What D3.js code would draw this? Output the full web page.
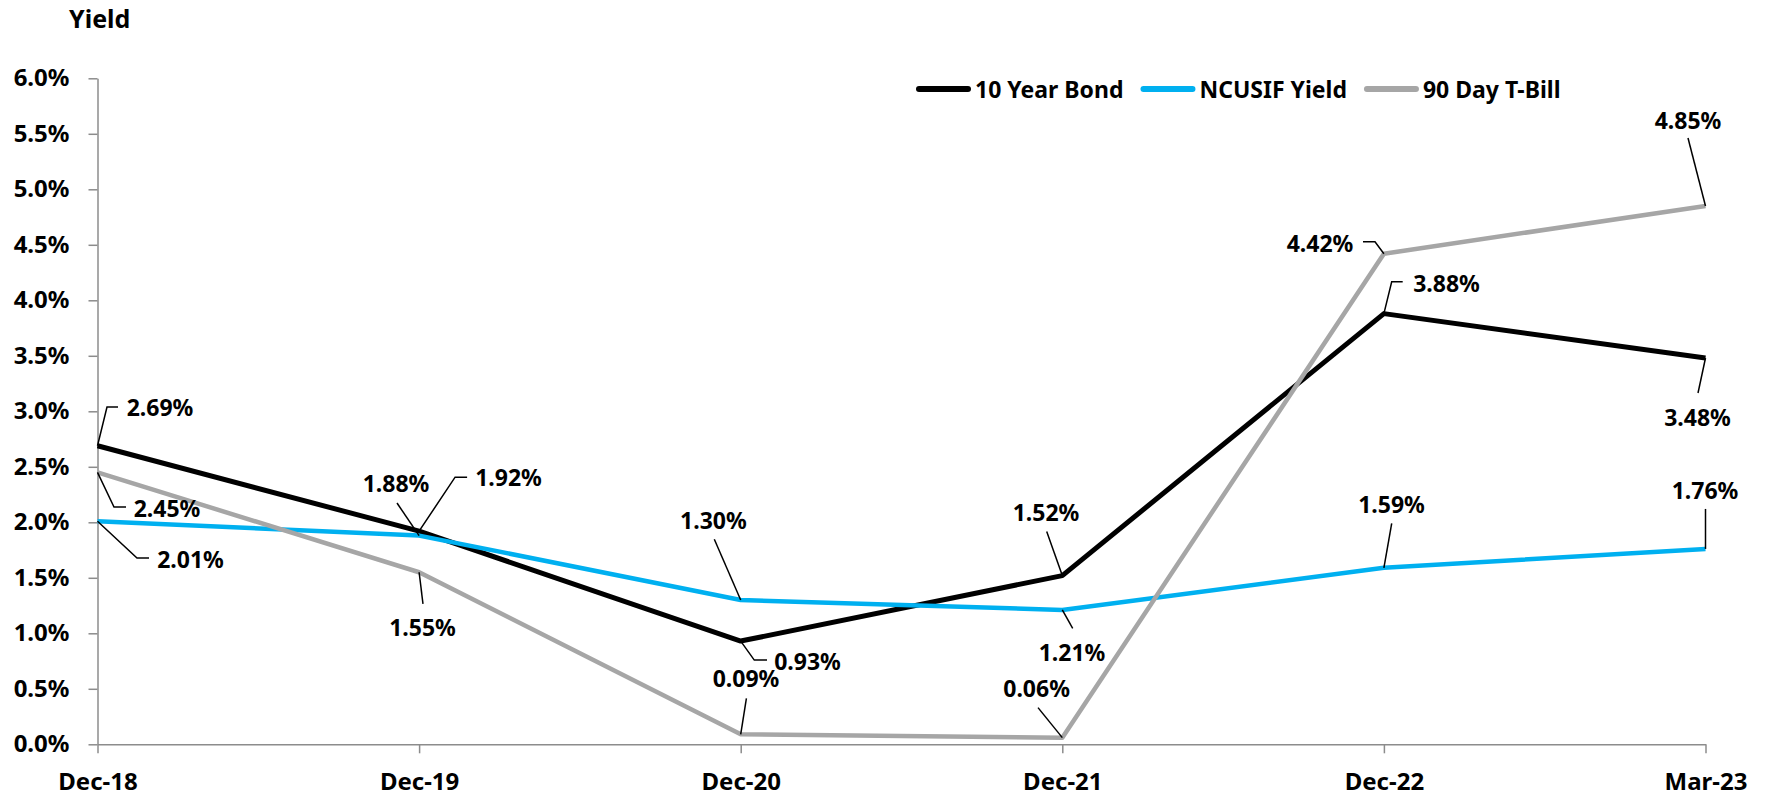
<!DOCTYPE html>
<html>
<head>
<meta charset="utf-8">
<script src="https://cdn.jsdelivr.net/npm/d3@7"></script>
<style>
    body { margin: 0; background: white; }
    text { font-family: "Noto Sans", sans-serif; font-weight: bold; fill: black; }
</style>
</head>
<body>
<svg id="yield-chart"></svg>
<script>
// chart values
var periods = ["Dec-18", "Dec-19", "Dec-20", "Dec-21", "Dec-22", "Mar-23"];
var seriesNames = ["10 Year Bond", "NCUSIF Yield", "90 Day T-Bill"];
var bond10Year = [0.0269, 0.0192, 0.0093, 0.0152, 0.0388, 0.0348];
var ncusifYield = [0.0201, 0.0188, 0.0130, 0.0121, 0.0159, 0.0176];
var tBill90Day = [0.0245, 0.0155, 0.0009, 0.0006, 0.0442, 0.0485];
var yTicks = [0, 0.005, 0.01, 0.015, 0.02, 0.025, 0.03, 0.035, 0.04, 0.045, 0.05, 0.055, 0.06];

// label placement (text centre offset and leader line, relative to the point)
var labelLayout = [
    [ {t: [62.5, -38.7], l: [[0, 0], [9.5, -38.7], [20.5, -38.7]]},
      {t: [89.4, -54], l: [[0, 0], [36, -54], [48, -54]]},
      {t: [66.8, 20], l: [[0, 0], [13.6, 19], [26.3, 19]]},
      {t: [-16.3, -63.3], l: [[-15.6, -44], [0, 0]]},
      {t: [62.6, -30.9], l: [[0, 0], [7.8, -31.9], [18.8, -31.9]]},
      {t: [-8, 58.7], l: [[0, 0], [-7.5, 35]]} ],
    [ {t: [93, 37.8], l: [[0, 0], [39.5, 36.8], [51.5, 36.8]]},
      {t: [-23.1, -52.6], l: [[-22.1, -32.6], [0, 0]]},
      {t: [-27.3, -80], l: [[-26.4, -60.7], [0, 0]]},
      {t: [9.7, 41.6], l: [[0, 0], [10.4, 18.3]]},
      {t: [7.6, -63.8], l: [[7.8, -44.5], [0, 0]]},
      {t: [-0.5, -59], l: [[0, -40], [0, 0]]} ],
    [ {t: [69.5, 35.6], l: [[0, 0], [16.5, 34.6], [28.5, 34.6]]},
      {t: [3.4, 54.7], l: [[0, 0], [3.9, 31.7]]},
      {t: [5.3, -56.3], l: [[5.7, -36], [0, 0]]},
      {t: [-25.7, -49.3], l: [[-24.3, -30], [0, 0]]},
      {t: [-63.9, -10.7], l: [[0, 0], [-8.9, -12], [-20.9, -12]]},
      {t: [-17.5, -86], l: [[-17.5, -68], [0, 0]]} ]
];

var size = {
    width: 1765,
    height: 796
};
var colors = ["#000000", "#00B0F0", "#A6A6A6"];
var widths = [5, 4.5, 4.5];

var series = [bond10Year, ncusifYield, tBill90Day].map(function(values, i) {
    return {name: seriesNames[i], values: values, color: colors[i], width: widths[i], layout: labelLayout[i]};
});

var svg = d3.select("#yield-chart")
    .attr("width", size.width)
    .attr("height", size.height);

var xScale = d3.scalePoint()
    .domain(periods)
    .range([97.5, 1705.5]);

var yScale = d3.scaleLinear()
    .domain([0, 0.06])
    .range([744.3, 78.3]);

var axisColor = "#8c8c8c";

// y axis
var yAxis = svg.append("g")
    .attr("transform", "translate(97.5,0)")
    .call(d3.axisLeft(yScale)
        .tickValues(yTicks)
        .tickFormat(d3.format(".1%"))
        .tickSize(9)
        .tickSizeOuter(0)
        .tickPadding(19));

// x axis
var xAxis = svg.append("g")
    .attr("transform", "translate(0," + yScale(0) + ")")
    .call(d3.axisBottom(xScale)
        .tickSize(9)
        .tickSizeOuter(0)
        .tickPadding(20));

[yAxis, xAxis].forEach(function(ax) {
    ax.select(".domain").attr("stroke", axisColor).attr("stroke-width", 1.5);
    ax.selectAll(".tick line").attr("stroke", axisColor).attr("stroke-width", 1.5);
    ax.selectAll(".tick text")
        .attr("fill", "black")
        .style("font-family", "'Noto Sans', sans-serif")
        .style("font-weight", "bold")
        .style("font-size", "24px");
});

// axis title
svg.append("text")
    .attr("x", 69)
    .attr("y", 28)
    .style("font-size", "25px")
    .text("Yield");

// lines
var lineGenerator = d3.line()
    .x(function(d, i) { return xScale(periods[i]); })
    .y(function(d) { return yScale(d); });

svg.append("g")
    .selectAll(".series")
    .data(series)
    .enter()
    .append("path")
    .attr("class", "series")
    .attr("d", function(s) { return lineGenerator(s.values); })
    .attr("fill", "none")
    .attr("stroke", function(s) { return s.color; })
    .attr("stroke-width", function(s) { return s.width; })
    .attr("stroke-linejoin", "round");

// data labels with leader lines
var labels = svg.append("g");
series.forEach(function(s) {
    s.values.forEach(function(v, i) {
        var px = xScale(periods[i]);
        var py = yScale(v);
        var lay = s.layout[i];
        labels.append("path")
            .attr("d", d3.line()(lay.l.map(function(p) { return [px + p[0], py + p[1]]; })))
            .attr("fill", "none")
            .attr("stroke", "black")
            .attr("stroke-width", 1.5);
        labels.append("text")
            .attr("x", px + lay.t[0])
            .attr("y", py + lay.t[1])
            .attr("text-anchor", "middle")
            .attr("dominant-baseline", "central")
            .style("font-size", "23px")
            .text(d3.format(".2%")(v));
    });
});

// legend
var legend = svg.append("g");
var legendX = 916;
var legendY = 89;
series.forEach(function(s) {
    legend.append("line")
        .attr("x1", legendX + 3)
        .attr("x2", legendX + 52)
        .attr("y1", legendY)
        .attr("y2", legendY)
        .attr("stroke", s.color)
        .attr("stroke-width", 6)
        .attr("stroke-linecap", "round");
    var t = legend.append("text")
        .attr("x", legendX + 59)
        .attr("y", legendY)
        .attr("dominant-baseline", "central")
        .style("font-size", "23px")
        .text(s.name);
    legendX += 59 + t.node().getComputedTextLength() + 17;
});
</script>
</body>
</html>
